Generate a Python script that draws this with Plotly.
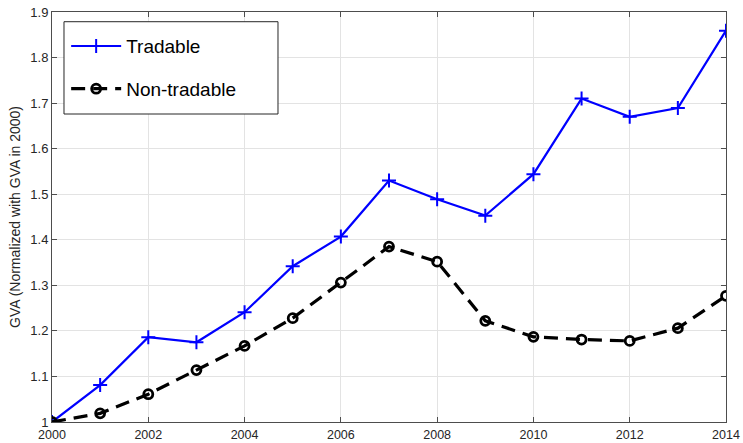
import plotly.graph_objects as go

years = list(range(2000, 2015))
tradable = [1.000, 1.081, 1.186, 1.175, 1.241, 1.342, 1.407, 1.530, 1.489,
            1.453, 1.544, 1.710, 1.670, 1.689, 1.859]
non_tradable = [1.000, 1.019, 1.061, 1.114, 1.167, 1.228, 1.306, 1.385, 1.352,
                1.222, 1.187, 1.181, 1.178, 1.206, 1.277]
x_ticks = list(range(2000, 2015, 2))
y_ticks = [1.0, 1.1, 1.2, 1.3, 1.4, 1.5, 1.6, 1.7, 1.8, 1.9]
y_tick_text = ["1", "1.1", "1.2", "1.3", "1.4", "1.5", "1.6", "1.7", "1.8", "1.9"]

fig = go.Figure()
fig.add_trace(go.Scatter(
    x=years, y=tradable, name="Tradable", mode="lines+markers",
    legendgroup="a",
    line=dict(color="#0000ff", width=2.2),
    marker=dict(symbol="cross-thin", size=10, line=dict(color="#0000ff", width=2)),
))
fig.add_trace(go.Scatter(
    x=years, y=non_tradable, name="Non-tradable", mode="lines+markers",
    legendgroup="b",
    line=dict(color="#000000", width=3.2, dash="14px,8px"),
    marker=dict(symbol="circle-open", size=9, color="#000000",
                line=dict(color="#000000", width=2.8)),
))

axis_common = dict(
    showline=True, linecolor="#4d4d4d", linewidth=1, mirror="ticks",
    ticks="inside", ticklen=5, tickcolor="#4d4d4d",
    showgrid=True, gridcolor="#e3e3e3", gridwidth=1, zeroline=False,
    automargin=False,
)

fig.update_xaxes(range=[2000, 2014], tickvals=x_ticks, ticklabelstandoff=1,
                 tickfont=dict(family="Liberation Sans, Arial", size=12.5,
                               color="#262626"),
                 **axis_common)
fig.update_yaxes(range=[1.0, 1.9], tickvals=y_ticks, ticktext=y_tick_text,
                 tickfont=dict(family="Liberation Sans, Arial", size=13,
                               color="#262626"),
                 title=dict(text="GVA (Normalized with GVA in 2000)", standoff=6,
                            font=dict(family="Liberation Sans, Arial", size=14,
                                      color="#262626")),
                 **axis_common)

# legend frame, wider than the entries themselves
fig.add_shape(type="rect", xref="paper", yref="paper",
              x0=0.0178, x1=0.3353, y0=0.7512, y1=0.9763,
              line=dict(color="#262626", width=1), fillcolor="white",
              layer="above")

fig.update_layout(
    width=743, height=443,
    margin=dict(l=52, r=17, t=12, b=21),
    plot_bgcolor="white", paper_bgcolor="white",
    showlegend=True,
    legend=dict(
        x=0.021, y=0.963, xanchor="left", yanchor="top",
        bgcolor="rgba(0,0,0,0)", borderwidth=0,
        font=dict(family="Liberation Sans, Arial", size=19, color="#000000"),
        tracegroupgap=15, itemwidth=50,
    ),
)

fig.write_html("out.html")
